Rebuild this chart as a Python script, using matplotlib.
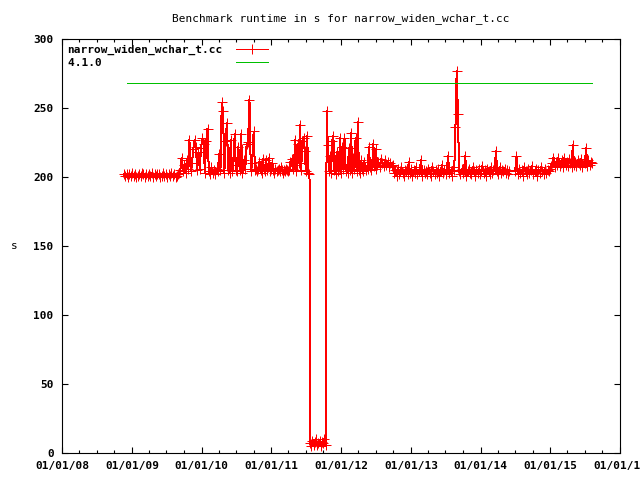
import pandas as pd
import matplotlib
matplotlib.use('Agg')
import matplotlib.pyplot as plt
import matplotlib.dates as mdates

# runtime (s) of narrow_widen_wchar_t.cc in chunks
span_a = ('2008-11-20', '2009-09-01')
vals_a = [202, 201, 202, 200, 202, 201, 203, 201, 202, 200, 201, 202, 201, 203, 202, 200,
          202, 201, 202, 201, 203, 200, 202, 201, 202, 202, 200, 201, 203, 201, 202, 200,
          202, 201, 203, 201, 202, 200, 201, 202]

span_b = ('2009-09-05', '2010-06-30')
vals_b = [203, 205, 214, 204, 209, 203, 212, 206, 227, 204, 210, 220, 227, 222, 205, 218,
          206, 221, 228, 224, 203, 226, 235, 204, 202, 207, 203, 205, 202, 206, 204, 217,
          205, 254, 248, 203, 226, 239, 205, 203, 227, 204, 209, 231, 205]

span_c = ('2010-07-05', '2010-10-15')
vals_c = [204, 222, 205, 231, 203, 212, 206, 224, 225, 256, 204, 210, 233, 205, 206]

span_d = ('2010-10-20', '2011-03-31')
vals_d = [204, 206, 211, 205, 203, 213, 206, 204, 212, 205, 207, 214, 204, 206, 210, 205,
          203, 206, 204, 205, 206, 204, 207, 205, 203, 205, 204, 206, 205, 204]

span_e = ('2011-04-05', '2011-07-20')
vals_e = [205, 211, 213, 206, 209, 227, 204, 224, 210, 238, 205, 226, 228, 219, 204, 230,
          203, 202]

span_f = ('2011-07-23', '2011-10-12')
vals_f = [7, 5, 9, 6, 8, 10, 6, 7, 9, 5, 8, 7, 10, 6]

span_h = ('2011-10-18', '2012-06-30')
vals_h = [248, 223, 204, 215, 203, 226, 230, 205, 202, 218, 204, 207, 228, 203, 222, 206,
          228, 204, 209, 203, 221, 205, 232, 203, 214, 206, 228, 204, 240, 205, 203, 212,
          206, 204, 211, 205, 208, 206, 222, 207, 205, 209, 224, 208, 206]

span_i = ('2012-07-01', '2012-09-30')
vals_i = [220, 209, 211, 207, 213, 210, 208, 212, 209, 211, 207, 210, 208, 209]

span_j = ('2012-10-05', '2014-06-01')
vals_j = [203, 205, 201, 206, 202, 204, 207, 203, 201, 205,
          204, 202, 211, 203, 206, 201, 205, 203, 207, 202,
          204, 206, 212, 201, 205, 203, 204, 202, 206, 203,
          201, 207, 204, 202, 205, 203, 206, 201, 204, 209,
          203, 205, 202, 206, 215, 203, 204, 201, 207, 205,
          236, 277, 246, 204, 202, 206, 203, 205, 215, 201,
          204, 206, 203, 202, 207, 204, 201, 205, 203, 206,
          202, 204, 208, 203, 205, 201, 206, 204, 202, 207,
          203, 205, 206, 219, 204, 202, 207, 203, 205, 204,
          206, 203, 205, 202, 204]

span_k = ('2014-07-01', '2014-12-31')
vals_k = [204, 215, 202, 206, 203, 205, 201, 207, 204, 202, 206, 203, 205, 208, 202, 204,
          206, 201, 205, 203, 207, 204, 202, 206, 203, 205, 204, 206]

span_l = ('2015-01-05', '2015-08-08')
vals_l = [208, 210, 214, 207, 211, 209, 214, 208, 210, 212, 207, 214, 209, 211, 208, 213,
          210, 207, 223, 209, 211, 208, 212, 210, 209, 213, 207, 211, 210, 221, 208, 212,
          209, 211, 210]

# reference run of gcc 4.1.0
ref_dates = ['2008-12-06', '2015-08-07']
ref_vals = [268, 268]

labels = ['narrow_widen_wchar_t.cc', '4.1.0']

chunks = [(span_a, vals_a), (span_b, vals_b), (span_c, vals_c), (span_d, vals_d),
          (span_e, vals_e), (span_f, vals_f), (span_h, vals_h), (span_i, vals_i),
          (span_j, vals_j), (span_k, vals_k), (span_l, vals_l)]

dates = []
values = []
for (start, end), v in chunks:
    dates.extend(pd.date_range(start, end, periods=len(v)))
    values.extend(v)

plt.rcParams['font.family'] = 'DejaVu Sans Mono'
plt.rcParams['font.weight'] = 'bold'
plt.rcParams['font.size'] = 8

fig = plt.figure(figsize=(6.4, 4.8), dpi=100)
ax = fig.add_axes([62 / 640, 27 / 480, 558 / 640, 414 / 480])

# monospace font, so padding keeps the legend labels left aligned
width = max(len(s) for s in labels)
ax.plot(dates, values, color='#ff0000', lw=0.72, marker='+', ms=6.5, mew=0.72,
        antialiased=False, label=labels[0].ljust(width))
ax.plot(pd.to_datetime(ref_dates), ref_vals, color='#00c000', lw=0.72,
        antialiased=False, label=labels[1].ljust(width))

ax.set_xlim(pd.Timestamp('2008-01-01'), pd.Timestamp('2016-01-01'))
ax.set_ylim(0, 300)
ax.set_yticks(range(0, 301, 50))
ax.xaxis.set_major_locator(mdates.YearLocator())
ax.xaxis.set_minor_locator(mdates.MonthLocator(bymonth=[4, 7, 10]))
ax.xaxis.set_major_formatter(mdates.DateFormatter('%m/%d/%y'))

ax.tick_params(which='both', direction='in', top=True, right=True, width=0.8)
ax.tick_params(which='major', length=4, pad=6)
ax.tick_params(which='minor', length=2)
for s in ax.spines.values():
    s.set_linewidth(0.8)

ax.set_title('Benchmark runtime in s for narrow_widen_wchar_t.cc', fontsize=8, pad=13)
ax.set_ylabel('s', rotation=0, va='center')
ax.yaxis.set_label_coords(-0.086, 0.5)

ax.legend(loc='upper left', frameon=False, markerfirst=False, handlelength=2.9,
          handletextpad=1.2, labelspacing=0.25, borderaxespad=0.3, borderpad=0.2)

fig.savefig('out.png', dpi=100)
